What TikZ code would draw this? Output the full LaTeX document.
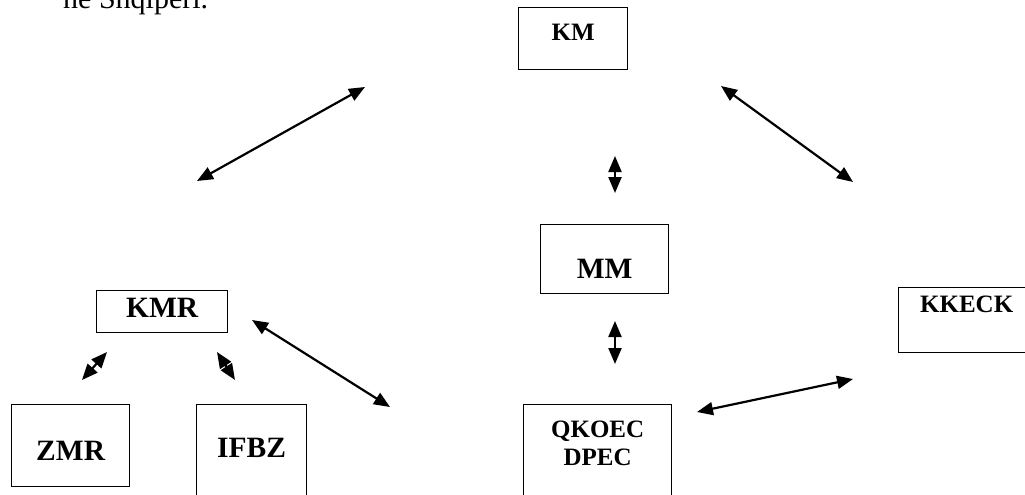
\documentclass[tikz,border=0pt]{standalone}
\usepackage{fontspec}
\setmainfont{Liberation Serif}
\usetikzlibrary{arrows.meta}

\begin{document}
\begin{tikzpicture}[x=1pt,y=-1pt,
	org/.style={draw,line width=1.3pt,inner sep=0pt,anchor=north west},
	bigtxt/.style={font=\bfseries\fontsize{29.5}{35}\selectfont},
	smalltxt/.style={font=\bfseries\fontsize{25}{28}\selectfont},
	link/.style={{Triangle[length=16pt,width=13pt]}-{Triangle[length=16pt,width=13pt]},line width=2.2pt}]
	\useasboundingbox (0,0) rectangle (1025,495);
	\node[anchor=base west,inner sep=0pt,font=\fontsize{30}{36}\selectfont] (prev) at (63,9) {në Shqipëri.};

	\node[org,smalltxt,minimum width=109,text height=33,text depth=29] (km) at (518,7) {KM};
	\node[org,bigtxt,minimum width=128,text height=54,text depth=15] (mm) at (540,224) {MM};
	\node[org,bigtxt,minimum width=131,text height=27,text depth=15] (kmr) at (96,290) {KMR};
	\node[org,smalltxt,minimum width=136,text height=25,text depth=40] (kkeck) at (898,287) {KKECK};
	\node[org,bigtxt,minimum width=118,text height=56,text depth=26] (zmr) at (11,404) {ZMR};
	\node[org,bigtxt,minimum width=110,text height=53,text depth=58] (ifbz) at (196,404) {IFBZ};
	\node[org,smalltxt,align=center,minimum width=148,text height=61,text depth=50] (qkoec) at (523,404) {QKOEC\\DPEC};

	\coordinate (kmrA) at (197,181);
	\coordinate (kmA) at (365,87);
	\coordinate (kmB) at (721,86);
	\coordinate (kkeckA) at (853,182);
	\coordinate (kmC) at (615,156);
	\coordinate (mmA) at (615,193);
	\coordinate (mmB) at (615,321);
	\coordinate (qkoecA) at (615,364);
	\coordinate (zmrA) at (82,380);
	\coordinate (kmrB) at (107,352);
	\coordinate (kmrC) at (217,352);
	\coordinate (ifbzA) at (235,380);
	\coordinate (kmrD) at (252,320);
	\coordinate (ifbzB) at (390,407);
	\coordinate (qkoecB) at (697,412);
	\coordinate (kkeckB) at (853,379);

	\draw[link] (kmrA) -- (kmA);
	\draw[link] (kmB) -- (kkeckA);
	\draw[link] (kmC) -- (mmA);
	\draw[link] (mmB) -- (qkoecA);
	\draw[link] (zmrA) -- (kmrB);
	\draw[link] (kmrC) -- (ifbzA);
	\draw[link] (kmrD) -- (ifbzB);
	\draw[link] (qkoecB) -- (kkeckB);
\end{tikzpicture}
\end{document}
